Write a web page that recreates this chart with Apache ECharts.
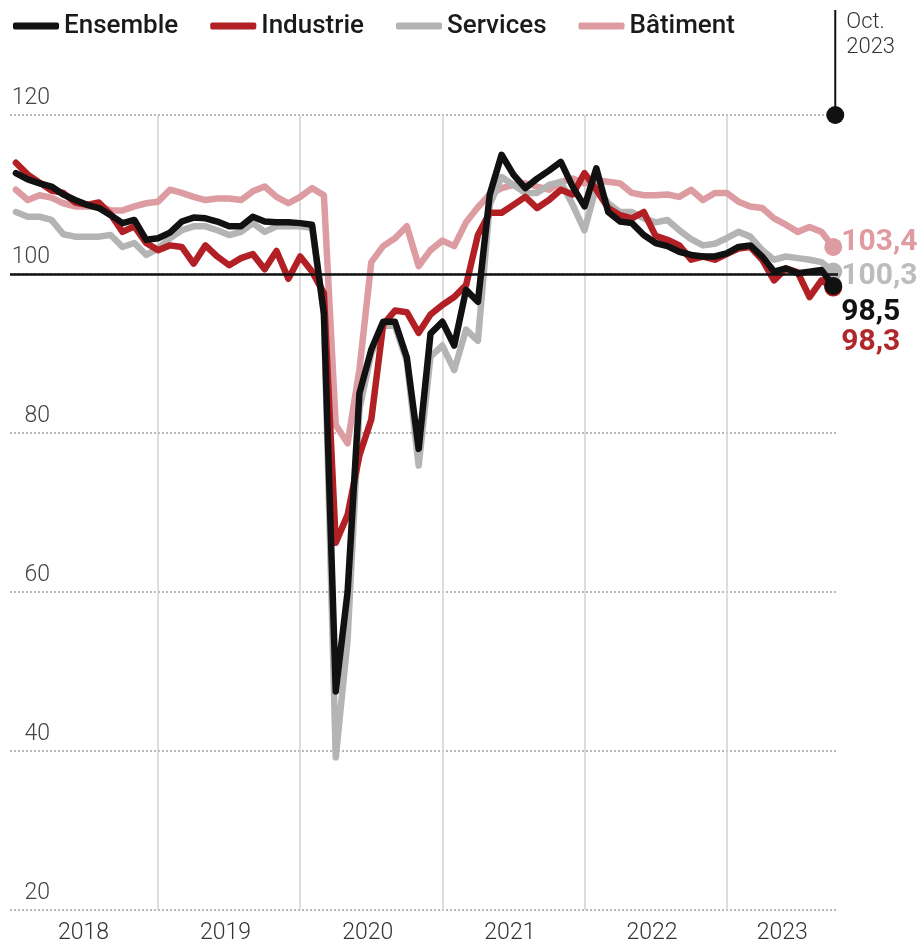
<!DOCTYPE html>
<html>
<head>
<meta charset="utf-8">
<script src="https://cdn.jsdelivr.net/npm/echarts@6/dist/echarts.min.js"></script>
<style>
  html, body { margin: 0; padding: 0; background: #ffffff; }
  #chart { width: 923px; height: 947px; }
</style>
</head>
<body>
<div id="chart"></div>
<script>
// Monthly indices, January 2018 to October 2023 (base 100)
const firstYear = 2018;

const ensemble = [
  112.7, 111.9, 111.4, 111.0, 110.0, 109.3, 108.7, 108.3, 107.4, 106.4, 106.8, 104.3,
  104.5, 105.2, 106.6, 107.1, 107.0, 106.6, 106.0, 106.0, 107.2, 106.6, 106.5, 106.5,
  106.4, 106.2, 95.0, 47.5, 60.0, 85.0, 90.5, 94.0, 94.0, 89.5, 78.0, 92.5,
  94.0, 91.0, 98.0, 96.5, 110.0, 115.0, 112.5, 110.8, 112.0, 113.0, 114.1, 111.0,
  108.5, 113.3, 107.8, 106.6, 106.4, 104.9, 103.9, 103.5, 102.8, 102.4, 102.2, 102.2,
  102.6, 103.4, 103.6, 102.2, 100.3, 100.7, 100.1, 100.3, 100.5, 98.5
];

const industrie = [
  114.0, 112.5, 111.5, 110.5, 110.2, 109.0, 108.7, 109.0, 107.5, 105.3, 106.0, 103.9,
  103.0, 103.6, 103.4, 101.3, 103.6, 102.2, 101.1, 102.0, 102.5, 100.6, 102.9, 99.4,
  102.2, 100.3, 97.6, 66.2, 69.7, 77.2, 81.7, 93.6, 95.4, 95.2, 92.6, 94.9,
  96.1, 97.1, 98.6, 104.9, 107.7, 107.7, 108.7, 109.7, 108.3, 109.3, 110.6, 110.0,
  112.7, 110.6, 108.3, 107.4, 107.0, 107.8, 104.8, 104.3, 103.6, 101.8, 102.2, 101.8,
  102.5, 103.2, 103.4, 101.8, 99.2, 100.7, 100.2, 97.1, 99.2, 98.3
];

const services = [
  107.8, 107.2, 107.2, 106.8, 105.0, 104.7, 104.7, 104.7, 104.9, 103.4, 103.9, 102.4,
  103.2, 104.5, 105.5, 106.0, 106.0, 105.5, 104.9, 105.3, 106.4, 105.3, 106.0, 106.0,
  106.0, 105.8, 95.0, 39.2, 54.0, 83.0, 90.0, 93.5, 93.5, 89.0, 75.9, 89.6,
  91.0, 87.9, 93.0, 91.6, 108.7, 112.2, 111.2, 110.2, 110.2, 111.2, 111.6, 108.7,
  105.5, 111.0, 108.9, 107.8, 107.8, 107.0, 106.5, 106.8, 105.5, 104.4, 103.6, 103.8,
  104.5, 105.3, 104.7, 103.0, 101.8, 102.2, 102.0, 101.8, 101.5, 100.3
];

const batiment = [
  110.6, 109.3, 109.9, 109.6, 108.9, 108.5, 108.5, 108.5, 108.0, 108.0, 108.5, 108.9,
  109.1, 110.6, 110.2, 109.7, 109.3, 109.5, 109.5, 109.3, 110.4, 111.0, 109.7, 108.9,
  109.7, 110.8, 109.9, 81.0, 78.7, 88.0, 101.5, 103.5, 104.5, 106.0, 101.0, 103.0,
  104.2, 103.5, 106.5, 108.4, 110.0, 110.8, 111.2, 111.4, 111.0, 110.6, 111.6, 112.0,
  111.4, 111.8, 111.6, 111.4, 110.2, 109.9, 109.9, 110.0, 109.7, 110.6, 109.3, 110.2,
  110.2, 109.1, 108.5, 108.3, 107.0, 106.2, 105.3, 105.9, 105.3, 103.4
];

const yearLabels = ['2018', '2019', '2020', '2021', '2022', '2023'];
const legendNames = ['Ensemble', 'Industrie', 'Services', 'Bâtiment'];
const lastMonthLabel = 'Oct.\n2023';
const referenceLevel = 100;

const monthCount = ensemble.length;
const lastIndex = monthCount - 1;

// x positions of January of each year (vertical rules) and of the year labels
const yearStarts = yearLabels.slice(1).map((_, k) => (k + 1) * 12);
const yearCenters = yearLabels.map((_, k) => {
  const first = k * 12;
  const last = Math.min(first + 11, lastIndex);
  return (first + last) / 2 + 0.2;
});

const FONT = 'Roboto, "Noto Sans", sans-serif';
const decimal = v => String(v).replace('.', ',');

function lineSeries(name, values, color, labelColor, labelDy, z, extra) {
  const data = values.map((v, i) => [i, v]);
  data[lastIndex] = {
    value: data[lastIndex],
    symbol: 'circle',
    symbolSize: 18,
    itemStyle: { color: color }
  };
  return Object.assign({
    name: name,
    type: 'line',
    data: data,
    symbol: 'none',
    showSymbol: true,
    z: z,
    itemStyle: { color: color },
    lineStyle: { color: color, width: 6.5, join: 'round', cap: 'round' },
    emphasis: { disabled: true },
    endLabel: {
      show: true,
      formatter: p => decimal(p.value[1]),
      color: labelColor,
      fontFamily: FONT,
      fontSize: 30,
      fontWeight: 'bold',
      distance: 8,
      offset: [0, labelDy]
    }
  }, extra || {});
}

const chart = echarts.init(document.getElementById('chart'), null, { renderer: 'canvas' });

chart.setOption({
  animation: false,
  backgroundColor: '#ffffff',
  grid: { left: 10, right: 85, top: 115, bottom: 37 },
  legend: {
    data: legendNames,
    left: 8,
    top: 8,
    icon: 'roundRect',
    itemWidth: 46,
    itemHeight: 7,
    itemGap: 32,
    selectedMode: false,
    textStyle: { fontFamily: FONT, fontSize: 26, fontWeight: 500, color: '#1a1a1a' }
  },
  xAxis: {
    type: 'value',
    min: -0.5,
    max: lastIndex + 0.4,
    axisLine: { show: false },
    axisTick: { show: false, customValues: yearStarts },
    axisLabel: {
      customValues: yearCenters,
      formatter: v => yearLabels[Math.floor(v / 12)],
      fontFamily: FONT,
      fontSize: 23,
      fontWeight: 300,
      color: '#333333',
      margin: 12
    },
    splitLine: { show: true, lineStyle: { color: '#d2d2d2', width: 1.5 } }
  },
  yAxis: {
    type: 'value',
    min: 20,
    max: 120,
    interval: 20,
    axisLine: { show: false },
    axisTick: { show: false },
    axisLabel: {
      inside: true,
      align: 'right',
      verticalAlign: 'bottom',
      margin: 40,
      padding: [0, 0, 5, 0],
      fontFamily: FONT,
      fontSize: 23,
      fontWeight: 300,
      color: '#444444'
    },
    splitLine: { show: true, lineStyle: { type: [2, 2], color: '#b8b8b8', width: 2 } }
  },
  series: [
    lineSeries('Bâtiment', batiment, '#dc9ca1', '#e09ba1', -4, 1, {
      markLine: {
        silent: true,
        symbol: ['none', 'none'],
        label: { show: false },
        lineStyle: { color: '#111111', width: 2.5, type: 'solid' },
        data: [{ yAxis: referenceLevel }]
      }
    }),
    lineSeries('Services', services, '#b4b4b4', '#bcbcbc', 5, 2),
    lineSeries('Industrie', industrie, '#b21f24', '#b0282c', 55, 3),
    lineSeries('Ensemble', ensemble, '#111111', '#111111', 27, 4)
  ]
});

// Marker for the latest month: rule above the plot, dot on the top gridline, caption
const markerPos = chart.convertToPixel({ gridIndex: 0 }, [lastIndex, 120]);
chart.setOption({
  graphic: [
    {
      type: 'line',
      shape: { x1: markerPos[0] + 2, y1: 10, x2: markerPos[0] + 2, y2: markerPos[1] },
      style: { stroke: '#111111', lineWidth: 2 }
    },
    {
      type: 'circle',
      shape: { cx: markerPos[0] + 2, cy: markerPos[1], r: 9 },
      style: { fill: '#111111' }
    },
    {
      type: 'text',
      x: markerPos[0] + 13,
      y: 10,
      style: {
        text: lastMonthLabel,
        font: '300 22px ' + FONT,
        fill: '#333333',
        lineHeight: 25
      }
    }
  ]
});
</script>
</body>
</html>
